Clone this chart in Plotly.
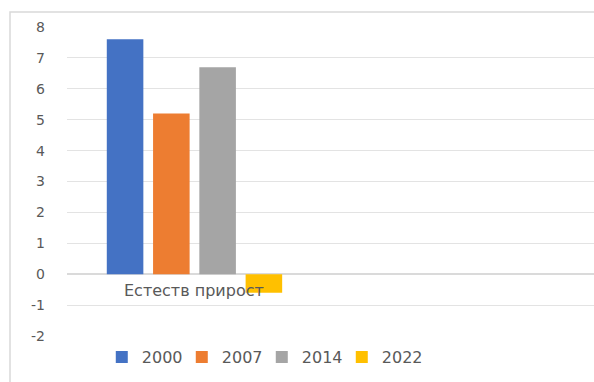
import plotly.graph_objects as go

categories = ["Естеств прирост"]
years = ["2000", "2007", "2014", "2022"]
values = [[7.6], [5.2], [6.7], [-0.6]]
colors = ["#4472C4", "#ED7D31", "#A5A5A5", "#FFC000"]
y_ticks = [-2, -1, 0, 1, 2, 3, 4, 5, 6, 7, 8]
y_tick_text = ["-2", "-1", "0", "1", "2", "3", "4", "5", "6", "7", "8"]

fig = go.Figure()
for yr, vals, col in zip(years, values, colors):
    fig.add_trace(go.Bar(x=categories, y=vals, name=yr, marker_color=col,
                         marker_line_width=0))

W, H = 594, 382
ml, mr, mt, mb = 67, 0, 27, 46
pw, ph = W - ml - mr, H - mt - mb
fig.update_layout(
    width=W, height=H,
    margin=dict(l=ml, r=mr, t=mt, b=mb, autoexpand=False),
    paper_bgcolor="white", plot_bgcolor="white",
    barmode="group", bargap=0.274, bargroupgap=0.21,
    font=dict(family="DejaVu Sans", size=13, color="#595959"),
    showlegend=True,
    legend=dict(orientation="h", x=0.066, xanchor="left", y=-0.068, yanchor="middle",
                font=dict(size=16, color="#595959"), entrywidth=35,
                bgcolor="rgba(0,0,0,0)", itemclick=False),
    xaxis=dict(type="category", range=[-0.5, 1.567], showticklabels=False,
               showgrid=False, zeroline=False, showline=False, ticks=""),
    yaxis=dict(range=[-2, 8], tickvals=y_ticks, ticktext=y_tick_text,
               showgrid=True, gridcolor="#E3E3E3",
               gridwidth=1, zeroline=True, zerolinecolor="#DADADA", zerolinewidth=1.5,
               showline=False, ticks="", ticklabelstandoff=21,
               tickfont=dict(size=14, color="#595959")),
)
fig.add_annotation(x=categories[0], y=0, yref="y", xref="x", text=categories[0],
                   showarrow=False, yanchor="top", yshift=-5,
                   font=dict(size=16, color="#595959"))
fig.add_shape(type="rect", xref="paper", yref="paper",
              x0=(10 - ml) / pw, x1=1.2,
              y0=-0.3, y1=1 + (mt - 12) / ph,
              line=dict(color="#D9D9D9", width=1.5), fillcolor="rgba(0,0,0,0)",
              layer="below")
fig.write_html(
    "out.html",
    config={"displayModeBar": False},
    post_script="document.body.style.margin='0';document.body.style.overflow='hidden';",
)
